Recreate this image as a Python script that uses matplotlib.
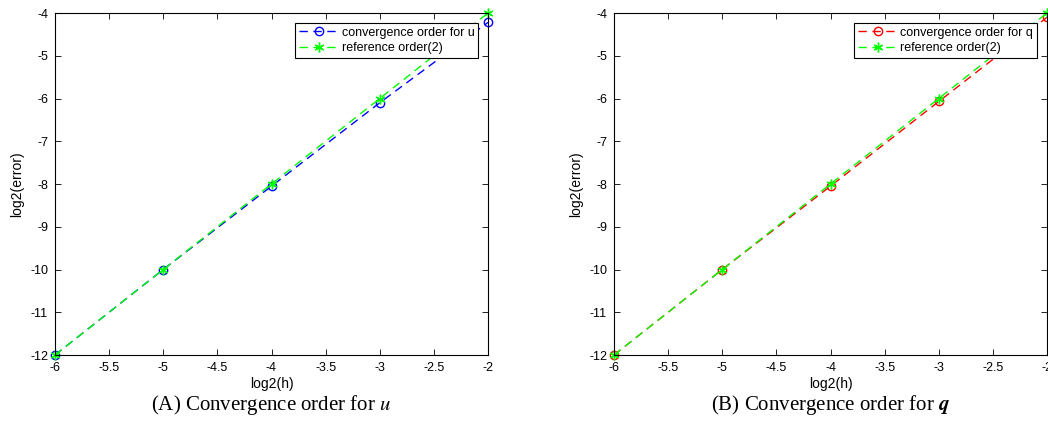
import numpy as np
import matplotlib.pyplot as plt

plt.rcParams["font.family"] = ["Liberation Sans", "DejaVu Sans"]
plt.rcParams["mathtext.fontset"] = "stix"
plt.rcParams["axes.unicode_minus"] = False

# data
log_h     = [-6, -5, -4, -3, -2]
err_u     = [-12, -10, -8.05, -6.1, -4.22]
err_q     = [-12, -10, -8.05, -6.07, -4.1]
ref_order = [-12, -10, -8, -6, -4]

xticks = [-6, -5.5, -5, -4.5, -4, -3.5, -3, -2.5, -2]
yticks = list(range(-12, -3))

panels = [
    ("b", err_u, "convergence order for u", r"(A) Convergence order for $u$"),
    ("r", err_q, "convergence order for q", r"(B) Convergence order for $\mathbfit{q}$"),
]

W, H = 1048, 441
fig = plt.figure(figsize=(W / 100, H / 100), dpi=100)

lefts = [55, 614]
for left, (col, err, lab, cap) in zip(lefts, panels):
    ax = fig.add_axes([left / W, 1 - 355 / H, 433 / W, (355 - 13) / H])
    ax.plot(log_h, err, "--o", color=col, linewidth=1, markersize=6,
            markerfacecolor="none", dashes=(6, 4), label=lab)
    ax.plot(log_h, ref_order, "--", marker=(6, 2, 0), color=(0, 1, 0),
            linewidth=1, markersize=7, dashes=(6, 4), label="reference order(2)")
    ax.set_xlim(-6, -2)
    ax.set_ylim(-12, -4)
    ax.set_xticks(xticks)
    ax.set_xticklabels([f"{t:g}" for t in xticks])
    ax.set_yticks(yticks)
    ax.tick_params(direction="in", top=True, right=True, labelsize=9,
                   length=4, width=0.6, pad=5)
    for sp in ax.spines.values():
        sp.set_linewidth(0.8)
    ax.set_xlabel("log2(h)", fontsize=10, labelpad=2)
    ax.set_ylabel("log2(error)", fontsize=10, labelpad=4)
    leg = ax.legend(loc="upper right", fontsize=9, frameon=True, fancybox=False,
                    edgecolor="black", framealpha=1, borderpad=0.3,
                    handlelength=3.2, handletextpad=0.2, labelspacing=0.25,
                    borderaxespad=0.8)
    leg.get_frame().set_linewidth(0.8)
    for line in ax.get_lines():
        line.set_clip_on(False)
    fig.text((left + 433 / 2) / W, 1 - 405 / H, cap, ha="center", va="center",
             fontsize=15, family="Liberation Serif")

fig.savefig("out.png", dpi=100)
